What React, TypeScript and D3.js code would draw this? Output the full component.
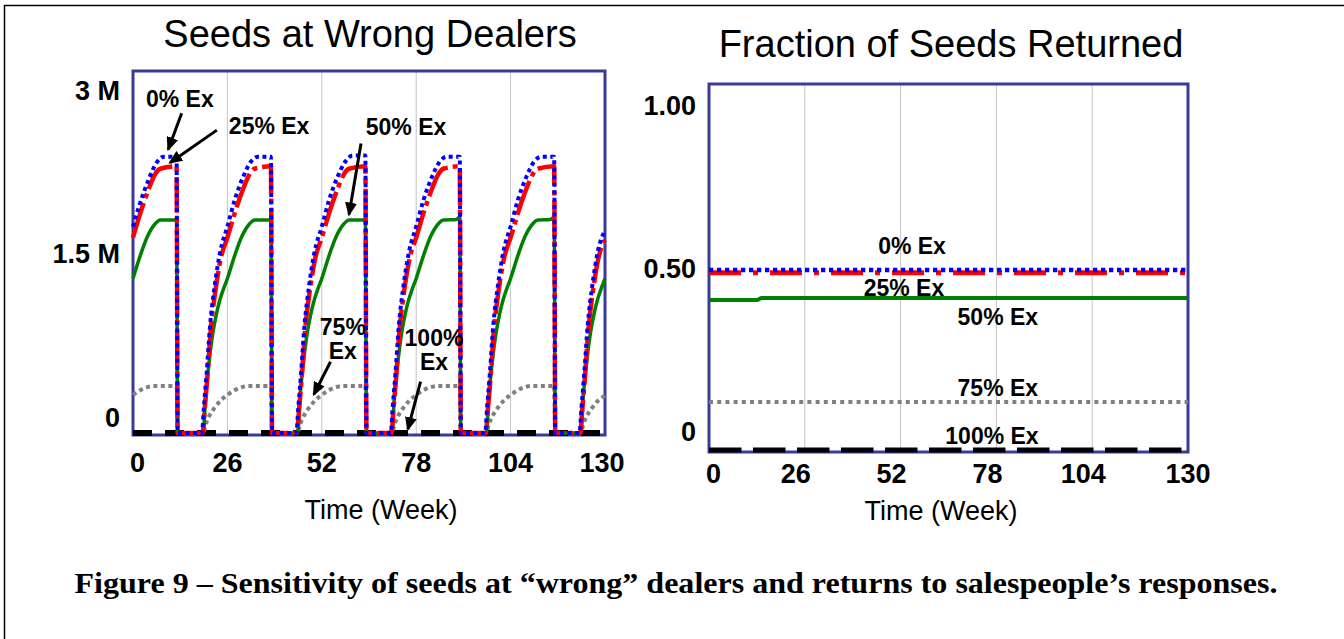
import React, { useEffect, useRef } from 'react';
import * as d3 from 'd3';

type Pt = [number, number];

const weekTicks = [0, 26, 52, 78, 104, 130];

// Seeds at wrong dealers, in millions
const seedsTicks = [0, 1.5, 3];
const seedsTickLabels = ['0', '1.5 M', '3 M'];

const seeds0Ex: Pt[] = [
  [0, 1.71], [2, 1.91], [4.3, 2.1], [6.5, 2.24], [8.5, 2.29], [12, 2.29], [12.3, 0], [19, 0],
  [19.5, 0.2], [20.3, 0.5], [21.2, 0.88], [22.5, 1.22], [24, 1.5], [26, 1.71], [28, 1.93], [30.3, 2.12], [32.5, 2.25], [34.5, 2.29], [38, 2.29], [38.3, 0], [45, 0],
  [45.5, 0.2], [46.3, 0.5], [47.2, 0.88], [48.5, 1.22], [50, 1.5], [52, 1.71], [54, 1.93], [56.3, 2.12], [58.5, 2.25], [60.5, 2.3], [64, 2.3], [64.3, 0], [71, 0],
  [71.5, 0.2], [72.3, 0.5], [73.2, 0.88], [74.5, 1.22], [76, 1.5], [78, 1.71], [80, 1.93], [82.3, 2.12], [84.5, 2.25], [86.5, 2.29], [90, 2.29], [90.3, 0], [97, 0],
  [97.5, 0.2], [98.3, 0.5], [99.2, 0.88], [100.5, 1.22], [102, 1.5], [104, 1.71], [106, 1.93], [108.3, 2.12], [110.5, 2.25], [112.5, 2.29], [116, 2.29], [116.3, 0], [123, 0],
  [123.5, 0.2], [124.3, 0.5], [125.2, 0.88], [126.5, 1.22], [128, 1.5], [130, 1.68]
];

const seeds25Ex: Pt[] = [
  [0, 1.62], [2, 1.82], [4.3, 2.02], [6, 2.14], [7.5, 2.19], [12, 2.21], [12.3, 0], [19.2, 0],
  [19.7, 0.18], [20.5, 0.47], [21.4, 0.85], [22.7, 1.18], [24.2, 1.45], [26, 1.62], [28, 1.82], [30.3, 2.02], [32, 2.14], [33.5, 2.19], [38, 2.21], [38.3, 0], [45.2, 0],
  [45.7, 0.18], [46.5, 0.47], [47.4, 0.85], [48.7, 1.18], [50.2, 1.45], [52, 1.62], [54, 1.82], [56.3, 2.02], [58, 2.14], [59.5, 2.19], [64, 2.21], [64.3, 0], [71.2, 0],
  [71.7, 0.18], [72.5, 0.47], [73.4, 0.85], [74.7, 1.18], [76.2, 1.45], [78, 1.62], [80, 1.82], [82.3, 2.02], [84, 2.14], [85.5, 2.19], [90, 2.21], [90.3, 0], [97.2, 0],
  [97.7, 0.18], [98.5, 0.47], [99.4, 0.85], [100.7, 1.18], [102.2, 1.45], [104, 1.62], [106, 1.82], [108.3, 2.02], [110, 2.14], [111.5, 2.19], [116, 2.21], [116.3, 0], [123.2, 0],
  [123.7, 0.18], [124.5, 0.47], [125.4, 0.85], [126.7, 1.18], [128.2, 1.45], [130, 1.6]
];

const seeds50Ex: Pt[] = [
  [0, 1.28], [2, 1.47], [4, 1.63], [6, 1.73], [7.5, 1.765], [12, 1.765], [12.3, 0], [19.3, 0],
  [20, 0.3], [21, 0.6], [22, 0.83], [23, 0.99], [24, 1.11], [25, 1.2], [26, 1.28], [28, 1.47], [30, 1.63], [32, 1.73], [33.5, 1.765], [38, 1.765], [38.3, 0], [45.3, 0],
  [46, 0.3], [47, 0.6], [48, 0.83], [49, 0.99], [50, 1.11], [51, 1.2], [52, 1.28], [54, 1.47], [56, 1.63], [58, 1.73], [59.5, 1.765], [64, 1.765], [64.3, 0], [71.3, 0],
  [72, 0.3], [73, 0.6], [74, 0.83], [75, 0.99], [76, 1.11], [77, 1.2], [78, 1.28], [80, 1.47], [82, 1.63], [84, 1.73], [85.5, 1.765], [89, 1.77], [90, 1.79], [90.3, 0], [97.3, 0],
  [98, 0.3], [99, 0.6], [100, 0.83], [101, 0.99], [102, 1.11], [103, 1.2], [104, 1.28], [106, 1.47], [108, 1.63], [110, 1.73], [111.5, 1.765], [115, 1.77], [116, 1.79], [116.3, 0], [123.3, 0],
  [124, 0.3], [125, 0.6], [126, 0.83], [127, 0.99], [128, 1.11], [129, 1.2], [130, 1.28]
];

const seeds75Ex: Pt[] = [
  [0, 0.315], [2, 0.355], [4, 0.38], [6, 0.39], [12, 0.39], [12.3, 0], [19.3, 0],
  [20, 0.07], [21, 0.14], [22.5, 0.21], [24, 0.265], [26, 0.315], [28, 0.355], [30, 0.38], [32, 0.39], [38, 0.39], [38.3, 0], [45.3, 0],
  [46, 0.07], [47, 0.14], [48.5, 0.21], [50, 0.265], [52, 0.315], [54, 0.355], [56, 0.38], [58, 0.39], [64, 0.39], [64.3, 0], [71.3, 0],
  [72, 0.07], [73, 0.14], [74.5, 0.21], [76, 0.265], [78, 0.315], [80, 0.355], [82, 0.38], [84, 0.39], [90, 0.39], [90.3, 0], [97.3, 0],
  [98, 0.07], [99, 0.14], [100.5, 0.21], [102, 0.265], [104, 0.315], [106, 0.355], [108, 0.38], [110, 0.39], [116, 0.39], [116.3, 0], [123.3, 0],
  [124, 0.07], [125, 0.14], [126.5, 0.21], [128, 0.265], [130, 0.31]
];

const seeds100Ex: Pt[] = [[0, 0], [130, 0]];

// Fraction of seeds returned
const fracTicks = [0, 0.5, 1];
const fracTickLabels = ['0', '0.50', '1.00'];

const frac0Ex: Pt[] = [[0, 0.492], [130, 0.492]];
const frac25Ex: Pt[] = [[0, 0.484], [130, 0.484]];
const frac50Ex: Pt[] = [[0, 0.41], [13, 0.41], [14.3, 0.415], [130, 0.415]];
const frac75Ex: Pt[] = [[0, 0.131], [130, 0.131]];
const frac100Ex: Pt[] = [[0, 0], [130, 0]];

const frameColor = '#3a3a9c';
const sansFont = '"Liberation Sans", Arial, sans-serif';

interface Note { lines: string[]; at: Pt; from?: Pt; to?: Pt }

const seedsNotes: Note[] = [
  { lines: ['0% Ex'], at: [12.9, 2.77], from: [13.4, 2.65], to: [9.7, 2.35] },
  { lines: ['25% Ex'], at: [37.5, 2.55], from: [23.1, 2.51], to: [10.2, 2.24] },
  { lines: ['50% Ex'], at: [75.2, 2.54], from: [62.8, 2.4], to: [59.5, 1.81] },
  { lines: ['75%', 'Ex'], at: [57.8, 0.88], from: [54.4, 0.59], to: [49.8, 0.32] },
  { lines: ['100%', 'Ex'], at: [82.9, 0.79], from: [79.2, 0.425], to: [75.7, 0.03] }
];

const fracNotes: Note[] = [
  { lines: ['0% Ex'], at: [55.1, 0.557] },
  { lines: ['25% Ex'], at: [52.9, 0.444] },
  { lines: ['50% Ex'], at: [78.4, 0.363] },
  { lines: ['75% Ex'], at: [78.4, 0.171] },
  { lines: ['100% Ex'], at: [76.8, 0.038] }
];

function drawPanel(root: any, p: any) {
  const g = root.append('g');
  const x = d3.scaleLinear().domain([0, 130]).range([p.left, p.right]);
  const y = d3.scaleLinear().domain([0, p.yMax]).range([p.zeroY, p.top]);

  // vertical grid lines
  g.selectAll('line.grid')
    .data(weekTicks.slice(1, -1))
    .join('line')
    .attr('x1', (d: number) => x(d))
    .attr('x2', (d: number) => x(d))
    .attr('y1', p.top)
    .attr('y2', p.bottom)
    .attr('stroke', '#c4c4c4')
    .attr('stroke-width', 1);

  g.append('rect')
    .attr('x', p.left)
    .attr('y', p.top)
    .attr('width', p.right - p.left)
    .attr('height', p.bottom - p.top)
    .attr('fill', 'none')
    .attr('stroke', frameColor)
    .attr('stroke-width', 3);

  const line = d3.line<Pt>()
    .x(d => x(d[0]))
    .y(d => y(d[1]))
    .curve(d3.curveMonotoneX);

  p.series.forEach((s: any) => {
    g.append('path')
      .datum(s.data)
      .attr('d', line)
      .attr('fill', 'none')
      .attr('stroke', s.color)
      .attr('stroke-width', s.width)
      .attr('stroke-dasharray', s.dash || null)
      .attr('stroke-linejoin', 'round');
  });

  // title
  g.append('text')
    .attr('x', p.titleX)
    .attr('y', p.titleY)
    .attr('text-anchor', 'middle')
    .attr('font-family', sansFont)
    .attr('font-size', 38)
    .attr('fill', '#000')
    .text(p.title);

  // y tick labels
  const yLab = d3.scaleLinear().domain([0, p.yMax]).range(p.yLabelRange);
  g.selectAll('text.ytick')
    .data(p.yTicks)
    .join('text')
    .attr('x', p.left - 13)
    .attr('y', (d: number) => yLab(d))
    .attr('dy', '0.36em')
    .attr('text-anchor', 'end')
    .attr('font-family', sansFont)
    .attr('font-weight', 'bold')
    .attr('font-size', 27)
    .text((d: number, i: number) => p.yTickLabels[i]);

  // x tick labels
  g.selectAll('text.xtick')
    .data(weekTicks)
    .join('text')
    .attr('x', (d: number) => d === 0 ? x(d) - 3 : d === 130 ? x(d) + p.lastDx : x(d) + p.midDx)
    .attr('y', p.xLabelY)
    .attr('dy', '0.36em')
    .attr('text-anchor', (d: number) => d === 0 ? 'start' : 'middle')
    .attr('font-family', sansFont)
    .attr('font-weight', 'bold')
    .attr('font-size', 27)
    .text((d: number) => String(d));

  g.append('text')
    .attr('x', p.axisTitleX)
    .attr('y', p.axisTitleY)
    .attr('dy', '0.36em')
    .attr('text-anchor', 'middle')
    .attr('font-family', sansFont)
    .attr('font-size', 27)
    .text('Time (Week)');

  // series labels and arrows
  p.notes.forEach((n: Note) => {
    n.lines.forEach((t, i) => {
      g.append('text')
        .attr('x', x(n.at[0]))
        .attr('y', y(n.at[1]) + i * 24)
        .attr('dy', '0.36em')
        .attr('text-anchor', 'middle')
        .attr('font-family', sansFont)
        .attr('font-weight', 'bold')
        .attr('font-size', 23)
        .text(t);
    });
    if (n.from && n.to) {
      g.append('line')
        .attr('x1', x(n.from[0]))
        .attr('y1', y(n.from[1]))
        .attr('x2', x(n.to[0]))
        .attr('y2', y(n.to[1]))
        .attr('stroke', '#000')
        .attr('stroke-width', 3)
        .attr('marker-end', 'url(#arrowHead)');
    }
  });
}

export default function App() {
  const svgRef = useRef<SVGSVGElement>(null);

  useEffect(() => {
    if (!svgRef.current) return;
    const svg = d3.select(svgRef.current);
    svg.selectAll('*').remove();

    svg.append('rect').attr('width', 1344).attr('height', 639).attr('fill', '#fff');

    svg.append('defs').append('marker')
      .attr('id', 'arrowHead')
      .attr('markerUnits', 'userSpaceOnUse')
      .attr('markerWidth', 14)
      .attr('markerHeight', 12)
      .attr('refX', 12)
      .attr('refY', 6)
      .attr('orient', 'auto')
      .append('path')
      .attr('d', 'M0,0 L14,6 L0,12 Z')
      .attr('fill', '#000');

    // page frame (top and left edges only visible)
    svg.append('path')
      .attr('d', 'M4.5,639 V5.5 H1344')
      .attr('fill', 'none')
      .attr('stroke', '#000')
      .attr('stroke-width', 1.5);

    drawPanel(svg, {
      left: 133, right: 605, top: 71, bottom: 435, zeroY: 433, yMax: 3,
      title: 'Seeds at Wrong Dealers', titleX: 370, titleY: 47,
      yTicks: seedsTicks, yTickLabels: seedsTickLabels, yLabelRange: [417, 90],
      xLabelY: 462, midDx: 0, lastDx: -3,
      axisTitleX: 381, axisTitleY: 509,
      notes: seedsNotes,
      series: [
        { data: seeds100Ex, color: '#000', width: 6, dash: '19,13' },
        { data: seeds75Ex, color: '#808080', width: 4, dash: '4,3.5' },
        { data: seeds50Ex, color: '#008000', width: 3.5 },
        { data: seeds25Ex, color: '#ff0000', width: 4.5, dash: '36,5,5,5' },
        { data: seeds0Ex, color: '#0000ff', width: 4, dash: '4,3.5' }
      ]
    });

    drawPanel(svg, {
      left: 709, right: 1188, top: 84, bottom: 452, zeroY: 450, yMax: 1,
      title: 'Fraction of Seeds Returned', titleX: 951, titleY: 57,
      yTicks: fracTicks, yTickLabels: fracTickLabels, yLabelRange: [431, 105],
      xLabelY: 473, midDx: -9, lastDx: 0,
      axisTitleX: 941, axisTitleY: 510,
      notes: fracNotes,
      series: [
        { data: frac100Ex, color: '#000', width: 5, dash: '32.5,11.5' },
        { data: frac75Ex, color: '#808080', width: 4, dash: '4,4.2' },
        { data: frac50Ex, color: '#008000', width: 4 },
        { data: frac25Ex, color: '#ff0000', width: 5, dash: '32,12,5,12' },
        { data: frac0Ex, color: '#0000ff', width: 4.5, dash: '4.3,3.7' }
      ]
    });

    svg.append('text')
      .attr('x', 676)
      .attr('y', 593)
      .attr('text-anchor', 'middle')
      .attr('font-family', '"Liberation Serif", "Times New Roman", serif')
      .attr('font-weight', 'bold')
      .attr('font-size', 30)
      .attr('textLength', 1203)
      .attr('lengthAdjust', 'spacingAndGlyphs')
      .text('Figure 9 \u2013 Sensitivity of seeds at \u201cwrong\u201d dealers and returns to salespeople\u2019s responses.');
  }, []);

  return (
    <svg
      ref={svgRef}
      width={1344}
      height={639}
      style={{ position: 'absolute', left: 0, top: 0, display: 'block' }}
    />
  );
}
